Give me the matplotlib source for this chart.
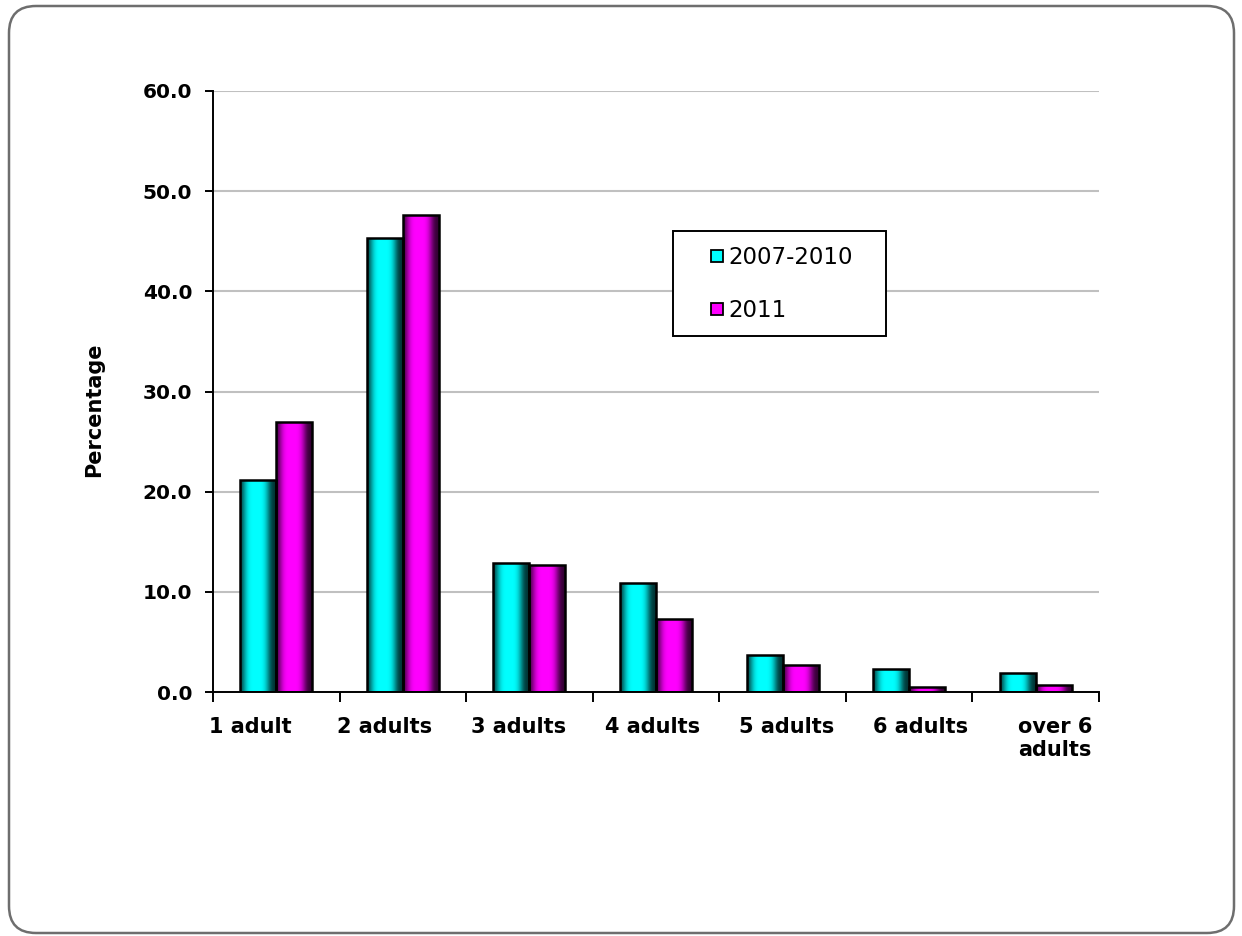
import numpy as np
import matplotlib
matplotlib.use("Agg")
import matplotlib.pyplot as plt
from matplotlib.patches import FancyBboxPatch, Rectangle
from matplotlib.lines import Line2D
from matplotlib.transforms import IdentityTransform

categories = ["1 adult", "2 adults", "3 adults", "4 adults", "5 adults", "6 adults", "over 6\nadults"]
series_names = ["2007-2010", "2011"]
values_2007_2010 = [21.2, 45.3, 12.9, 10.9, 3.7, 2.3, 1.9]
values_2011 = [27.0, 47.6, 12.7, 7.3, 2.7, 0.5, 0.7]
colors = ["#00FFFF", "#FF00FF"]
y_ticks = [0, 10, 20, 30, 40, 50, 60]

W, H = 1242, 936
fig = plt.figure(figsize=(W / 100, H / 100), dpi=100)
fig.patch.set_facecolor("white")

# rounded outer frame (pixel coordinates)
frame = FancyBboxPatch((9, H - 933), 1234 - 9, 933 - 6,
                       boxstyle="round,pad=0,rounding_size=27",
                       transform=IdentityTransform(), facecolor="none",
                       edgecolor="#6e6e6e", linewidth=1.8, zorder=0)
fig.patches.append(frame)

ax = fig.add_axes([213 / W, 1 - 692 / H, (1099 - 213) / W, (692 - 91) / H])
ax.set_facecolor("none")

n = len(categories)
x = np.arange(n)
bw = 0.284

def gradient_bar(ax, xs, vals, color):
    bars = ax.bar(xs, vals, width=bw, facecolor="none", edgecolor="black",
                  linewidth=1.8, zorder=4)
    t = np.linspace(0, 1, 200)
    f = 0.2 + 0.8 * np.exp(-((t - 0.45) / 0.36) ** 4)
    rgb = np.array(matplotlib.colors.to_rgb(color))
    img = (f[:, None] * rgb[None, :])[None, :, :]
    for b in bars:
        x0, y0 = b.get_x(), b.get_y()
        w, h = b.get_width(), b.get_height()
        im = ax.imshow(img, extent=[x0, x0 + w, y0, y0 + h], aspect="auto",
                       zorder=3, interpolation="bilinear")
        im.set_clip_path(b)
    return bars

gradient_bar(ax, x - bw / 2, values_2007_2010, colors[0])
gradient_bar(ax, x + bw / 2, values_2011, colors[1])

ax.set_xlim(-0.5, n - 0.5)
ax.set_ylim(0, 60)
ax.set_yticks(y_ticks)
ax.set_yticklabels([f"{v:.1f}" for v in y_ticks])
ax.yaxis.grid(True, color="#c0c0c0", linewidth=1.5, zorder=0)
ax.set_axisbelow(True)

# category boundary ticks
ax.set_xticks(np.arange(n + 1) - 0.5)
ax.set_xticklabels([])
ax.tick_params(axis="x", which="major", length=7, width=1.4, direction="out", color="black")
# labels (Excel spaces them slightly wider than categories)
lab_pos = -0.208 + 1.06 * np.arange(n)
ax.set_xticks(lab_pos, minor=True)
ax.set_xticklabels(categories, minor=True, fontsize=15, fontweight="bold",
                   linespacing=1.2, va="top")
ax.tick_params(axis="x", which="minor", length=0, pad=18)
ax.tick_params(axis="y", length=6, width=1.4, direction="out", pad=9,
               labelsize=14.5)
for lbl in ax.get_yticklabels():
    lbl.set_fontweight("bold")

for s in ["top", "right"]:
    ax.spines[s].set_visible(False)
for s in ["left", "bottom"]:
    ax.spines[s].set_color("black")
    ax.spines[s].set_linewidth(1.4)
ax.spines["bottom"].set_zorder(5)

fig.text(94 / W, 1 - 410 / H, "Percentage", rotation=90, ha="center", va="center",
         fontsize=15, fontweight="bold")

# legend box (white fill, black border)
leg_x0, leg_y1, leg_x1, leg_y0 = 673, 231, 886, 336
box = Rectangle((leg_x0, H - leg_y0), leg_x1 - leg_x0, leg_y0 - leg_y1,
                transform=IdentityTransform(), facecolor="white",
                edgecolor="black", linewidth=1.4, zorder=3)
fig.patches.append(box)

handles = [Line2D([0], [0], marker="s", linestyle="none", markersize=8.6,
                  markerfacecolor=c, markeredgecolor="black", markeredgewidth=1.3)
           for c in colors]
leg = fig.legend(handles, series_names, loc="center left",
                 bbox_to_anchor=(711 / W, 1 - 284 / H),
                 bbox_transform=fig.transFigure,
                 frameon=False, fontsize=16.5,
                 handlelength=0.55, handletextpad=0.2, labelspacing=1.3,
                 borderpad=0, borderaxespad=0)
leg.set_zorder(6)

fig.savefig("out.png", dpi=100, facecolor="white")
